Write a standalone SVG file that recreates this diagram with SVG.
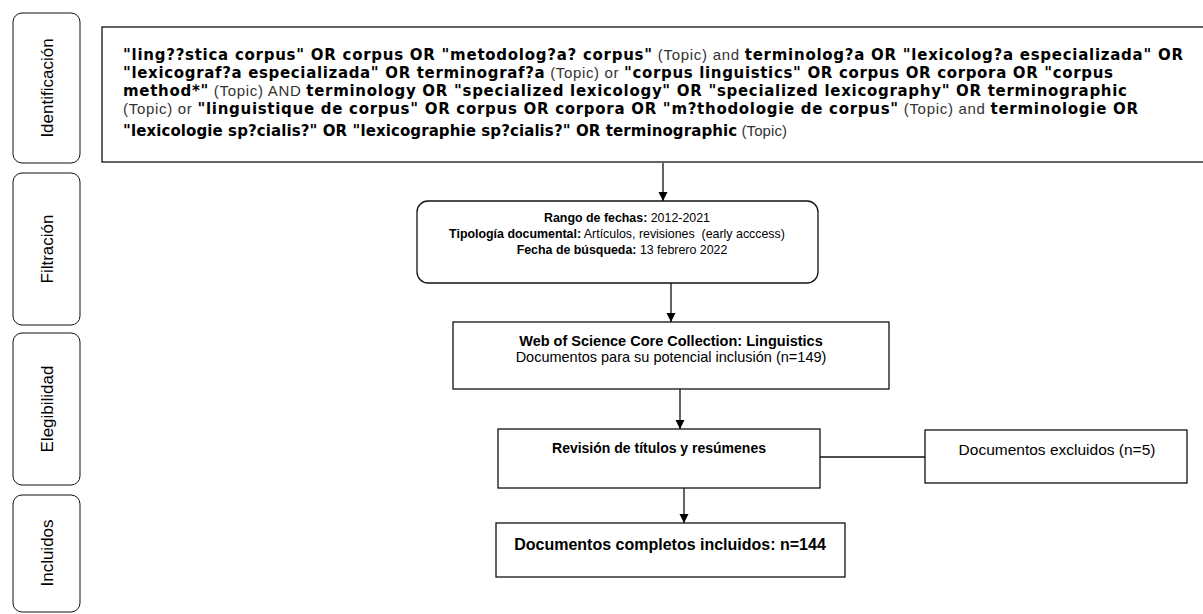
<svg xmlns="http://www.w3.org/2000/svg" width="1203" height="614" viewBox="0 0 1203 614">
<style>
.box{fill:#fff;stroke:#111;stroke-width:1.3}
.lane{fill:#fff;stroke:#111;stroke-width:1}
.q{font-size:15px;fill:#000}
.q .b{font-family:"DejaVu Sans",Verdana,sans-serif;font-weight:bold}
.q .n{font-family:"Liberation Sans",Arial,Helvetica,sans-serif;font-weight:normal;fill:#333}
.t{font-family:"Liberation Sans",Arial,Helvetica,sans-serif;fill:#000}
.bold{font-weight:bold}
.lt{font-family:"Liberation Sans",Arial,Helvetica,sans-serif;font-size:17px;fill:#000}
.c{stroke:#111;stroke-width:1.3;fill:none}
</style>
<defs>
<marker id="arr" markerWidth="10" markerHeight="10" refX="9" refY="5" orient="auto" markerUnits="userSpaceOnUse" viewBox="0 0 10 10">
<path d="M0,0.5 L9,5 L0,9.5 Z" fill="#000"/>
</marker>
</defs>

<g id="lane-identificacion">
<rect class="lane" x="13" y="13" width="67" height="150" rx="9"/>
<text class="lt" transform="translate(53 88) rotate(-90)" text-anchor="middle">Identificación</text>
</g>
<g id="lane-filtracion">
<rect class="lane" x="13" y="173" width="67" height="152" rx="9"/>
<text class="lt" transform="translate(53 249) rotate(-90)" text-anchor="middle">Filtración</text>
</g>
<g id="lane-elegibilidad">
<rect class="lane" x="13" y="333" width="67" height="152" rx="9"/>
<text class="lt" transform="translate(53 409) rotate(-90)" text-anchor="middle">Elegibilidad</text>
</g>
<g id="lane-incluidos">
<rect class="lane" x="13" y="495" width="67" height="117" rx="9"/>
<text class="lt" transform="translate(53 553) rotate(-90)" text-anchor="middle">Incluidos</text>
</g>

<g id="connectors">
<line class="c" x1="663" y1="163" x2="663" y2="201" marker-end="url(#arr)"/>
<line class="c" x1="671" y1="283" x2="671" y2="322" marker-end="url(#arr)"/>
<line class="c" x1="680" y1="389" x2="680" y2="429" marker-end="url(#arr)"/>
<line class="c" x1="684" y1="488" x2="684" y2="523" marker-end="url(#arr)"/>
<line class="c" x1="820" y1="457" x2="925" y2="457"/>
</g>

<g id="query">
<rect class="box" x="102" y="27" width="1120" height="135"/>
<text class="q" x="123" y="60" textLength="1060" lengthAdjust="spacing"><tspan class="b">"ling??stica corpus" OR corpus OR "metodolog?a? corpus"</tspan><tspan class="n"> (Topic) and </tspan><tspan class="b">terminolog?a OR "lexicolog?a especializada" OR</tspan></text>
<text class="q" x="123" y="78" textLength="990" lengthAdjust="spacing"><tspan class="b">"lexicograf?a especializada" OR terminograf?a</tspan><tspan class="n"> (Topic) or </tspan><tspan class="b">"corpus linguistics" OR corpus OR corpora OR "corpus</tspan></text>
<text class="q" x="123" y="96" textLength="1004" lengthAdjust="spacing"><tspan class="b">method*"</tspan><tspan class="n"> (Topic) AND </tspan><tspan class="b">terminology OR "specialized lexicology" OR "specialized lexicography" OR terminographic</tspan></text>
<text class="q" x="123" y="114" textLength="1015" lengthAdjust="spacing"><tspan class="n">(Topic) or </tspan><tspan class="b">"linguistique de corpus" OR corpus OR corpora OR "m?thodologie de corpus"</tspan><tspan class="n"> (Topic) and </tspan><tspan class="b">terminologie OR</tspan></text>
<text class="q" x="123" y="136" textLength="664" lengthAdjust="spacing"><tspan class="b">"lexicologie sp?cialis?" OR "lexicographie sp?cialis?" OR terminographic</tspan><tspan class="n"> (Topic)</tspan></text>
</g>

<g id="filtros">
<rect class="box" x="417" y="201" width="401" height="82" rx="11"/>
<text class="t" font-size="12.4" x="627" y="222" text-anchor="middle"><tspan class="bold">Rango de fechas:</tspan> 2012-2021</text>
<text class="t" font-size="12.4" x="617" y="238" text-anchor="middle" xml:space="preserve"><tspan class="bold">Tipología documental:</tspan> Artículos, revisiones  (early acccess)</text>
<text class="t" font-size="12.4" x="622" y="254" text-anchor="middle"><tspan class="bold">Fecha de búsqueda:</tspan> 13 febrero 2022</text>
</g>

<g id="wos">
<rect class="box" x="453" y="322" width="436" height="67"/>
<text class="t bold" font-size="14.5" x="671" y="346" text-anchor="middle">Web of Science Core Collection: Linguistics</text>
<text class="t" font-size="14.5" x="671" y="362" text-anchor="middle">Documentos para su potencial inclusión (n=149)</text>
</g>

<g id="revision">
<rect class="box" x="498" y="429" width="322" height="59"/>
<text class="t bold" font-size="14" x="659" y="453" text-anchor="middle">Revisión de títulos y resúmenes</text>
</g>

<g id="excluidos">
<rect class="box" x="925" y="430" width="262" height="53"/>
<text class="t" font-size="15.5" x="1057" y="455" text-anchor="middle">Documentos excluidos (n=5)</text>
</g>

<g id="incluidos">
<rect class="box" x="496" y="523" width="349" height="54"/>
<text class="t bold" font-size="16" x="670" y="550" text-anchor="middle">Documentos completos incluidos: n=144</text>
</g>
</svg>
